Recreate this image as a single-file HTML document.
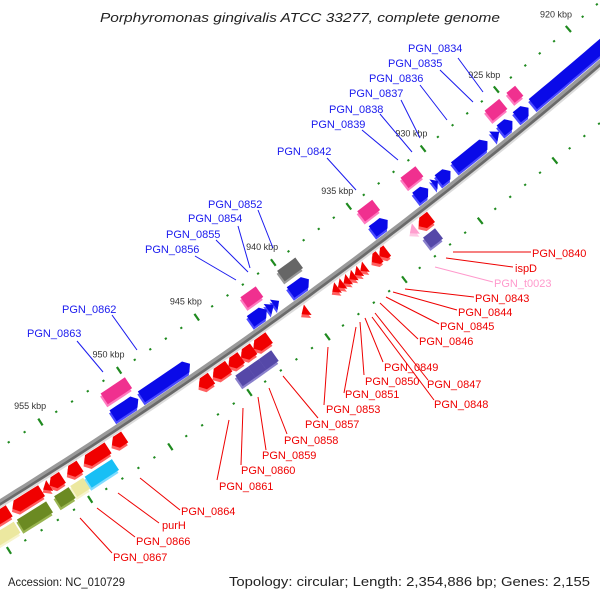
<!DOCTYPE html>
<html><head><meta charset="utf-8"><style>
html,body{margin:0;padding:0;background:#fff;}
svg{display:block;}
text{font-family:"Liberation Sans","DejaVu Sans",sans-serif;}
</style></head><body>
<svg id="map" width="600" height="600" viewBox="0 0 600 600" xmlns="http://www.w3.org/2000/svg">
<rect width="600" height="600" fill="#fff"/>
<text x="300" y="22" text-anchor="middle" font-size="13" font-style="italic" fill="#222" textLength="400" lengthAdjust="spacingAndGlyphs">Porphyromonas gingivalis ATCC 33277, complete genome</text>
<text x="8" y="586" font-size="12" fill="#222" textLength="117" lengthAdjust="spacingAndGlyphs">Accession: NC_010729</text>
<text x="590" y="586" font-size="12.5" fill="#222" text-anchor="end" textLength="361" lengthAdjust="spacingAndGlyphs">Topology: circular; Length: 2,354,886 bp; Genes: 2,155</text>
<g id="ticks"></g><g id="backbone"></g><g id="features"></g><g id="labels"></g>
</svg>
<script>
// ---- data ----
const fwdStarts = [917.0, 924.3, 925.4, 926.3, 927.1, 929.6, 930.45, 931.1, 933.8, 939.0, 940.95, 941.3, 941.75, 946.7, 950.0];
const fwdEnds   = [924.0, 925.1, 926.2, 926.7, 929.3, 930.4, 930.75, 931.9, 934.8, 940.2, 941.3, 941.7, 942.8, 949.8, 951.6];
const outerFwdStarts = [924.1, 925.2, 930.9, 933.8, 938.9, 941.5, 949.95];
const outerFwdEnds   = [924.7, 926.2, 931.9, 934.8, 940.1, 942.5, 951.5];
const outerFwdColors = ["pink","pink","pink","pink","gray","pink","pink"];
const revStarts = [931.9, 932.9, 934.8, 935.3, 936.2, 936.57, 936.93, 937.3, 937.67, 938.03, 940.0, 942.5, 943.5, 944.3, 945.1, 946.2, 951.7, 952.75, 954.5, 955.6, 956.4, 956.9, 958.9];
const revEnds   = [932.7, 933.3, 935.3, 935.8, 936.57, 936.93, 937.3, 937.67, 938.03, 938.4, 940.4, 943.5, 944.3, 945.1, 946.1, 947.0, 952.5, 954.25, 955.3, 956.4, 956.8, 958.7, 961.5];
const revColors = ["red","lpink","red","red","red","red","red","red","red","red","red","red","red","red","red","red","red","red","red","red","red","red","red"];
const outerRevStarts = [932.1, 942.8, 943.6, 944.3, 952.9, 954.7, 955.6, 957.0, 959.0];
const outerRevEnds   = [932.9, 943.6, 944.3, 945.1, 954.6, 955.5, 956.5, 958.8, 961.5];
const outerRevColors = ["purple","purple","purple","purple","cyan","khaki","olive","olive","khaki"];
const tickKbpMin = 905, tickKbpMax = 965;
const tickLabelValues = [920, 925, 930, 935, 940, 945, 950, 955];

// ---- geometry ----
const CX=-2544, CY=-3601, R0=4827.6, TH0=53.9, DEG_PER_KBP=0.2255;
function P(kbp,d){const t=(TH0+(kbp-940)*DEG_PER_KBP)*Math.PI/180;return [CX+(R0+d)*Math.cos(t),CY+(R0+d)*Math.sin(t)];}
const PAL={blue:["#0a0ae8","#4a4aff"],pink:["#f0308f","#ff7ac0"],gray:["#666","#999"],red:["#f00000","#ff6060"],lpink:["#ff9fcf","#ffc8e4"],purple:["#5548a8","#8a80cc"],cyan:["#18bff5","#7fdcff"],khaki:["#ece8a0","#f7f4cc"],olive:["#6b8a22","#9ab552"]};
const NS="http://www.w3.org/2000/svg";
function pts(a){return a.map(p=>p[0].toFixed(1)+","+p[1].toFixed(1)).join(" ");}
function edge(a,b,d){const n=Math.max(2,Math.ceil((b-a)/0.5));const r=[];for(let i=0;i<=n;i++)r.push(P(a+(b-a)*i/n,d));return r;}
function shape(a,b,d1,d2,dir){
  const L=b-a;let h=Math.min(0.28,L*0.6);if(L<=0.45)h=L;
  const m=(d1+d2)/2;
  if(dir<0){
    return [P(a,m)].concat(edge(a+h,b,d1),edge(a+h,b,d2).reverse());
  } else if(dir>0){
    return edge(a,b-h,d1).concat([P(b,m)],edge(a,b-h,d2).reverse());
  }
  return edge(a,b,d1).concat(edge(a,b,d2).reverse());
}
const fg=document.getElementById('features');
function drawFeature(a,b,d1,d2,dir,col,name){
  const g=document.createElementNS(NS,'g');
  
  
  const p=pts(shape(a,b,d1,d2,dir));
  const s=document.createElementNS(NS,'polygon');
  s.setAttribute('points',p);s.setAttribute('fill',PAL[col][1]);s.setAttribute('transform','translate(-0.5,3)');
  
  
  const f=document.createElementNS(NS,'polygon');
  f.setAttribute('points',p);f.setAttribute('fill',PAL[col][0]);
  
  
  g.appendChild(s);g.appendChild(f);fg.appendChild(g);
}
fwdStarts.forEach((a,i)=>drawFeature(a,fwdEnds[i],-5,-18,-1,'blue','forward-gene'));
outerFwdStarts.forEach((a,i)=>drawFeature(a,outerFwdEnds[i],-24,-37,0,outerFwdColors[i],'forward-feature-outer'));
revStarts.forEach((a,i)=>drawFeature(a,revEnds[i],6,19,1,revColors[i],'reverse-gene'));
outerRevStarts.forEach((a,i)=>drawFeature(a,outerRevEnds[i],24,37,0,outerRevColors[i],'reverse-feature-outer'));

// backbone
const bb=document.getElementById('backbone');
function arcPath(d){const e=edge(905,965,d);return "M"+e.map(p=>p[0].toFixed(1)+" "+p[1].toFixed(1)).join(" L");}
[[4.5,"#dcdcdc",2],[0.5,"#9a9a9a",6],[2,"#6a6a6a",2.5]].forEach(([d,c,w])=>{
  const p=document.createElementNS(NS,'path');p.setAttribute('d',arcPath(d));p.setAttribute('stroke',c);p.setAttribute('stroke-width',w);p.setAttribute('fill','none');
  
  
  bb.appendChild(p);
});

// ticks
const tg=document.getElementById('ticks');
for(let k=tickKbpMin;k<=tickKbpMax;k++){
  [-46,46].forEach(d=>{
    const major=(k%5===0);const l=major?4:1;
    const a=P(k,d-l),b=P(k,d+l);
    const ln=document.createElementNS(NS,'line');
    ln.setAttribute('x1',a[0]);ln.setAttribute('y1',a[1]);ln.setAttribute('x2',b[0]);ln.setAttribute('y2',b[1]);
    ln.setAttribute('stroke','#1f8a1f');ln.setAttribute('stroke-width',2.2);
    
    
    tg.appendChild(ln);
  });
}
tickLabelValues.forEach(v=>{
  const p=P(v,-65);
  const t=document.createElementNS(NS,'text');
  t.setAttribute('x',p[0]);t.setAttribute('y',p[1]+3);t.setAttribute('text-anchor','middle');t.setAttribute('font-size','9');t.setAttribute('fill','#333');
  t.textContent=v+' kbp';
  
  
  tg.appendChild(t);
});

// gene labels
const labelText=["PGN_0834","PGN_0835","PGN_0836","PGN_0837","PGN_0838","PGN_0839","PGN_0842","PGN_0852","PGN_0854","PGN_0855","PGN_0856","PGN_0862","PGN_0863",
"PGN_0840","ispD","PGN_t0023","PGN_0843","PGN_0844","PGN_0845","PGN_0846","PGN_0849","PGN_0847","PGN_0850","PGN_0848","PGN_0851","PGN_0853","PGN_0857","PGN_0858","PGN_0859","PGN_0860","PGN_0861","PGN_0864","purH","PGN_0866","PGN_0867"];
const labelPos=[[408,52],[388,67],[369,82],[349,97],[329,113],[311,128],[277,155],[208,208],[188,222],[166,238],[145,253],[62,313],[27,337],
[532,257],[515,272],[494,287],[475,302],[458,316],[440,330],[419,345],[384,371],[427,388],[365,385],[434,408],[345,398],[326,413],[305,428],[284,444],[262,459],[241,474],[219,490],[181,515],[162,529],[136,545],[113,561]];
const leaders=[[458,58,483,92],[440,70,473,102],[420,85,447,120],[401,100,420,138],[380,114,412,152],[362,130,398,160],[327,158,356,190],[258,210,273,248],[238,226,250,268],[216,240,248,272],[195,256,236,280],[112,315,137,350],[77,341,103,372],
[453,252,531,252],[446,258,513,267],[435,267,493,282],[405,289,474,297],[393,292,457,310],[386,297,439,324],[380,303,418,339],[365,318,383,362],[375,313,428,380],[360,322,364,375],[372,317,434,400],[356,327,344,393],[328,347,324,405],[283,376,318,418],[269,388,287,434],[258,397,266,450],[243,408,241,465],[229,420,217,480],[140,478,180,510],[118,493,159,523],[97,508,135,537],[80,518,112,553]];
const lg=document.getElementById('labels');
labelText.forEach((s,i)=>{
  const fwd=i<13;const col=fwd?"#1a1aee":(s==="PGN_t0023"?"#ff99cc":"#ee0000");
  const L=leaders[i];
  const ln=document.createElementNS(NS,'line');
  ln.setAttribute('x1',L[0]);ln.setAttribute('y1',L[1]);ln.setAttribute('x2',L[2]);ln.setAttribute('y2',L[3]);
  ln.setAttribute('stroke',col);ln.setAttribute('stroke-width','1');
  
  
  lg.appendChild(ln);
  const t=document.createElementNS(NS,'text');
  t.setAttribute('x',labelPos[i][0]);t.setAttribute('y',labelPos[i][1]);t.setAttribute('font-size','11');t.setAttribute('fill',col);
  t.textContent=s;
  
  
  lg.appendChild(t);
});
</script>
</body></html>
